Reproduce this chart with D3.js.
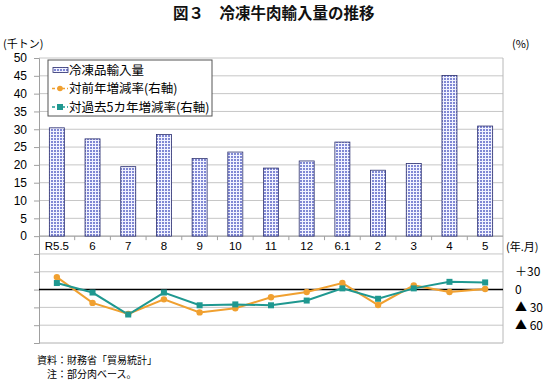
<!DOCTYPE html>
<html><head><meta charset="utf-8">
<script src="https://cdn.jsdelivr.net/npm/d3@7"></script>
<style>body{margin:0;background:#fff} svg{display:block}</style>
</head><body><svg id="c" width="550" height="382"></svg>
<script>
const categories = ["R5.5","6","7","8","9","10","11","12","6.1","2","3","4","5"];
const imports = [30.4, 27.3, 19.5, 28.5, 21.8, 23.6, 19.1, 21.1, 26.4, 18.5, 20.4, 45.1, 30.9];
const yoyRate = [21, -22.5, -41, -16.5, -38.5, -31.5, -13, -4, 11, -26, 7, -4, 1];
const fiveYearRate = [11, -5, -42, -5, -26.5, -25, -26.5, -18.5, 2, -15.5, 2, 13, 12];
const leftTicks = [0,5,10,15,20,25,30,35,40,45,50];
const rightTicks = [30, 0, -30, -60];
const rightTickLabels = ["＋30", "0", "▲ 30", "▲ 60"];
const seriesNames = ["冷凍品輸入量", "対前年増減率(右軸)", "対過去5カ年増減率(右軸)"];

const JP = "'Noto Sans CJK JP', sans-serif";
const LAT = "'Liberation Sans', Arial, sans-serif";
const ORANGE = "#f0a030", TEAL = "#1f9890";

const svg = d3.select("#c");
const L = 39, R = 503, T = 58, B = 343;
const x = d3.scaleBand().domain(categories).range([L, R]);
const yL = d3.scaleLinear().domain([-30, 50]).range([B, T]);
const yR = d3.scaleLinear().domain([-90, 390]).range([B, T]);
const bw = x.bandwidth();
const barW = 15;

// pattern
const defs = svg.append("defs");
const pat = defs.append("pattern").attr("id", "grid").attr("patternUnits", "userSpaceOnUse")
  .attr("width", 3).attr("height", 3);
pat.append("rect").attr("width", 3).attr("height", 3).attr("fill", "#f2f3ff");
pat.append("rect").attr("width", 2).attr("height", 2).attr("fill", "#8088d4");

// title
svg.append("text").attr("x", 173).attr("y", 19).attr("font-family", JP).attr("font-size", 15.5)
  .attr("font-weight", "bold").attr("fill", "#111").text("図３　冷凍牛肉輸入量の推移");

// unit labels
svg.append("text").attr("x", 3).attr("y", 48).attr("font-family", JP).attr("font-size", 11).text("(千トン)");
svg.append("text").attr("x", 512).attr("y", 48).attr("font-family", JP).attr("font-size", 11).text("(%)");

// gridlines
svg.append("g").selectAll("line").data(d3.range(-25, 55, 5)).join("line")
  .attr("x1", L).attr("x2", R).attr("y1", d => yL(d)).attr("y2", d => yL(d))
  .attr("stroke", "#c6c6c6").attr("stroke-width", 1);

// bottom border
svg.append("line").attr("x1", L).attr("x2", R).attr("y1", B).attr("y2", B).attr("stroke", "#b0b0b0");
// right border
svg.append("line").attr("x1", R).attr("x2", R).attr("y1", T).attr("y2", B).attr("stroke", "#b8b8b8");

// left axis
const la = svg.append("g").attr("transform", `translate(${L},0)`)
  .call(d3.axisLeft(yL).tickValues(d3.range(-30, 55, 5)).tickSize(5).tickPadding(7)
    .tickFormat(d => leftTicks.includes(d) ? d : ""));
la.select(".domain").attr("stroke", "#a0a0a0");
la.selectAll(".tick line").attr("stroke", "#a0a0a0");
la.selectAll("text").attr("font-family", LAT).attr("font-size", 12).attr("fill", "#000");

// category axis
const xa = svg.append("g").attr("transform", `translate(0,${yL(0)})`)
  .call(d3.axisBottom(x).tickSize(0).tickPadding(6));
xa.select(".domain").remove();
xa.selectAll("text").attr("font-family", LAT).attr("font-size", 11.5).attr("fill", "#000");
svg.append("g").selectAll("line").data(categories.slice(1)).join("line")
  .attr("x1", d => x(d)).attr("x2", d => x(d)).attr("y1", yL(0)).attr("y2", yL(0) + 4)
  .attr("stroke", "#a0a0a0");
svg.append("line").attr("x1", L).attr("x2", R).attr("y1", yL(0)).attr("y2", yL(0)).attr("stroke", "#a0a0a0");
svg.append("text").attr("x", 506).attr("y", 251).attr("font-family", JP).attr("font-size", 11).text("(年.月)");

// bars
svg.append("g").selectAll("rect").data(imports).join("rect")
  .attr("x", (d, i) => x(categories[i]) + (bw - barW) / 2)
  .attr("y", d => yL(d)).attr("width", barW).attr("height", d => yL(0) - yL(d))
  .attr("fill", "url(#grid)").attr("stroke", "#2d3170").attr("stroke-width", 0.8);

// zero line right axis
svg.append("line").attr("x1", L).attr("x2", R).attr("y1", yR(0)).attr("y2", yR(0))
  .attr("stroke", "#000").attr("stroke-width", 1.5);

// right labels
svg.append("g").selectAll("text").data(rightTicks).join("text")
  .attr("x", 515).attr("y", d => yR(d)).attr("dy", "0.36em")
  .attr("font-family", JP).attr("font-size", 12).text((d, i) => rightTickLabels[i]);

// lines
const cx = i => x(categories[i]) + bw / 2;
const line = d3.line().x((d, i) => cx(i)).y(d => yR(d));
svg.append("path").attr("d", line(yoyRate)).attr("fill", "none").attr("stroke", ORANGE).attr("stroke-width", 2);
svg.append("path").attr("d", line(fiveYearRate)).attr("fill", "none").attr("stroke", TEAL).attr("stroke-width", 2);
svg.append("g").selectAll("circle").data(yoyRate).join("circle")
  .attr("cx", (d, i) => cx(i)).attr("cy", d => yR(d)).attr("r", 3.2).attr("fill", ORANGE);
svg.append("g").selectAll("rect").data(fiveYearRate).join("rect")
  .attr("x", (d, i) => cx(i) - 3).attr("y", d => yR(d) - 3).attr("width", 6).attr("height", 6).attr("fill", TEAL);

// legend
const lg = svg.append("g");
lg.append("rect").attr("x", 48).attr("y", 60).attr("width", 164).attr("height", 56)
  .attr("fill", "#fff").attr("stroke", "#555").attr("stroke-width", 1);
const rows = [70, 88.5, 107];
lg.append("rect").attr("x", 53).attr("y", rows[0] - 2.5).attr("width", 15).attr("height", 5)
  .attr("fill", "url(#grid)").attr("stroke", "#2d3170").attr("stroke-width", 0.8);
lg.append("line").attr("x1", 52).attr("x2", 68).attr("y1", rows[1]).attr("y2", rows[1]).attr("stroke", ORANGE).attr("stroke-width", 1.5).attr("stroke-dasharray", "3,2");
lg.append("circle").attr("cx", 60).attr("cy", rows[1]).attr("r", 2.8).attr("fill", ORANGE);
lg.append("line").attr("x1", 52).attr("x2", 68).attr("y1", rows[2]).attr("y2", rows[2]).attr("stroke", TEAL).attr("stroke-width", 1.5).attr("stroke-dasharray", "3,2");
lg.append("rect").attr("x", 57).attr("y", rows[2] - 3).attr("width", 6).attr("height", 6).attr("fill", TEAL);
lg.selectAll("text.lt").data(seriesNames).join("text").attr("class", "lt")
  .attr("x", 69).attr("y", (d, i) => rows[i]).attr("dy", "0.36em")
  .attr("font-family", JP).attr("font-size", 12.5).attr("fill", "#000").text(d => d);

// footnotes
svg.append("text").attr("x", 37).attr("y", 363.5).attr("font-family", JP).attr("font-size", 10).text("資料：財務省「貿易統計」");
svg.append("text").attr("x", 47).attr("y", 378).attr("font-family", JP).attr("font-size", 10).text("注：部分肉ベース。");
</script></body></html>
